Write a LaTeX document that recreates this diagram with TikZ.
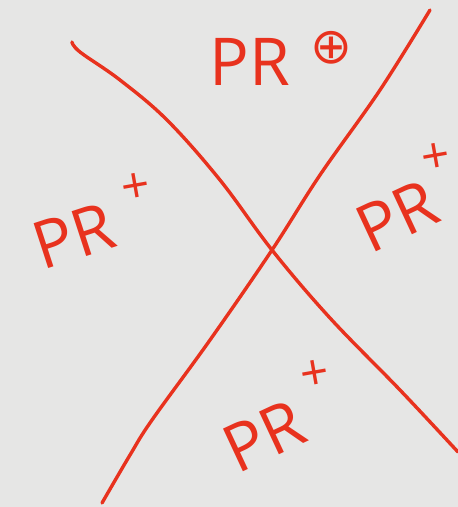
\documentclass[tikz,border=0pt]{standalone}
\usepackage{fontspec}
\setmainfont{Open Sans}
\newfontfamily\symfont{DejaVu Sans}
\definecolor{pen}{HTML}{E8321E}
\definecolor{paper}{HTML}{E6E6E5}
\begin{document}
\begin{tikzpicture}[x=1pt,y=-1pt,
  penline/.style={draw=pen,line width=3.4pt,line cap=round,line join=round},
  lbl/.style={text=pen,font=\fontsize{66}{66}\selectfont,inner sep=0pt},
  sup/.style={text=pen,font=\fontsize{50}{50}\selectfont,inner sep=0pt}]
\fill[paper] (0,0) rectangle (458,507);
\useasboundingbox (0,0) rectangle (458,507);
\draw[penline] plot[smooth,tension=0.6] coordinates {(72,42) (80,52) (120,80) (167,120) (220,180) (272,250) (330,318) (400,390) (458,452)};
\draw[penline] plot[smooth,tension=0.6] coordinates {(430,10) (380,90) (320,175) (272,250) (210,340) (152,420) (130,455) (102,503)};
\node[lbl] (top) at (250,62) {PR};
\node[sup,font=\symfont\fontsize{50}{50}\selectfont] (topsup) at (331,48) {⊕};
\node[lbl,rotate=18] (left) at (74,236) {PR};
\node[sup,rotate=10] (leftsup) at (136,188) {+};
\node[lbl,rotate=25] (right) at (397,216) {PR};
\node[sup,rotate=10] (rightsup) at (436,158) {+};
\node[lbl,rotate=25] (bottom) at (264,436) {PR};
\node[sup,rotate=10] (bottomsup) at (315,375) {+};
\end{tikzpicture}
\end{document}
